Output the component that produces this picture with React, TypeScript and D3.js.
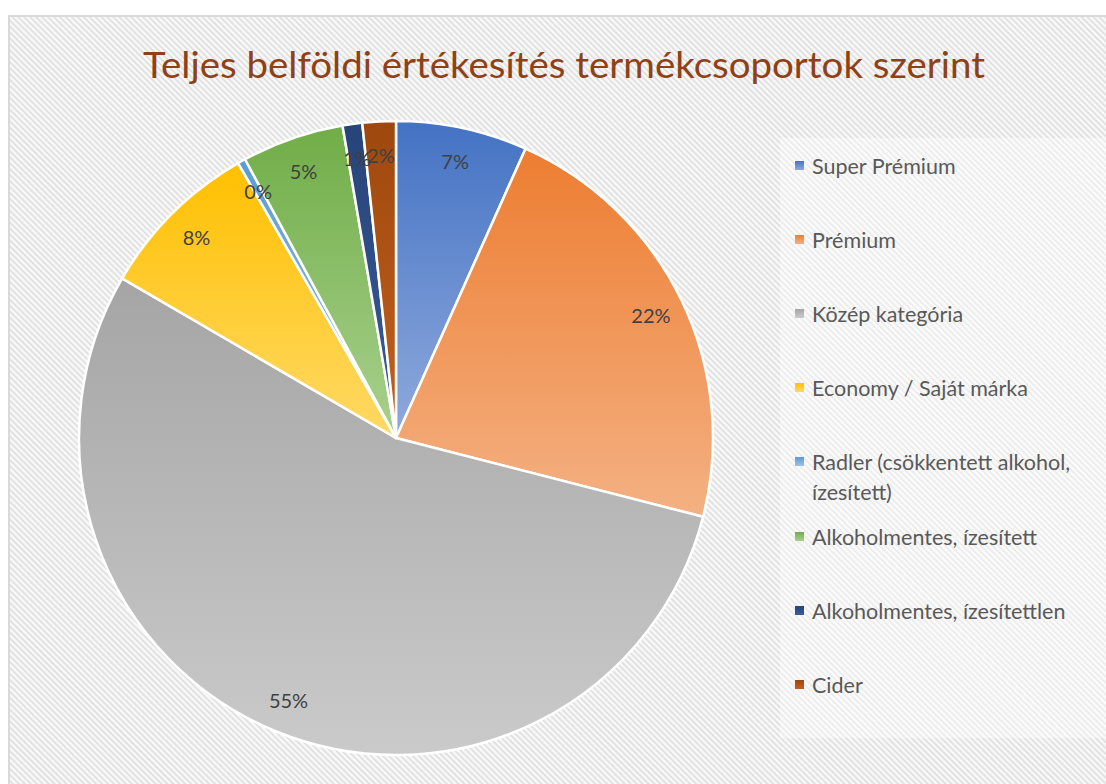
import React from 'react';
import * as d3 from 'd3';

const categories = [
  'Super Prémium',
  'Prémium',
  'Közép kategória',
  'Economy / Saját márka',
  'Radler (csökkentett alkohol, ízesített)',
  'Alkoholmentes, ízesített',
  'Alkoholmentes, ízesítettlen',
  'Cider',
];
const shares = [6.7, 22.3, 54.4, 8.3, 0.4, 5.2, 1.0, 1.7];
const pctLabels = ['7%', '22%', '55%', '8%', '0%', '5%', '1%', '2%'];
const legendLines = [
  ['Super Prémium'],
  ['Prémium'],
  ['Közép kategória'],
  ['Economy / Saját márka'],
  ['Radler (csökkentett alkohol,', 'ízesített)'],
  ['Alkoholmentes, ízesített'],
  ['Alkoholmentes, ízesítettlen'],
  ['Cider'],
];
const topColors = ['#4472C4', '#ED7D31', '#A5A5A5', '#FFC000', '#5B9BD5', '#70AD47', '#264478', '#9E480E'];
const bottomColors = ['#8FAADC', '#F4B183', '#CACACA', '#FFD966', '#9DC3E6', '#A9D18E', '#3B5C9C', '#C2611E'];
const title = 'Teljes belföldi értékesítés termékcsoportok szerint';

const W = 1106;
const H = 784;
const cx = 396;
const cy = 438;
const R = 317;
const labelR = 283;
const legendX = 795;
const legendRowY = [166, 240, 314, 388, 462, 537, 611, 685];
const font = 'Lato, "Open Sans", sans-serif';

export default function App() {
  const pie = d3.pie<number>().sort(null).value((d) => d).startAngle(0).endAngle(2 * Math.PI);
  const arcs = pie(shares);
  const arcGen = d3.arc<d3.PieArcDatum<number>>().innerRadius(0).outerRadius(R);
  const labelArc = d3.arc<d3.PieArcDatum<number>>().innerRadius(labelR).outerRadius(labelR);

  return (
    <svg
      width={W}
      height={H}
      style={{ position: 'absolute', left: 0, top: 0, display: 'block' }}
      xmlns="http://www.w3.org/2000/svg"
    >
      <defs>
        <pattern id="hatch" patternUnits="userSpaceOnUse" width={4.2} height={4.2} patternTransform="rotate(-45)">
          <rect x={0} y={0} width={4.2} height={4.2} fill="#f8f8f8" />
          <rect x={0} y={0} width={1.8} height={4.2} fill="#e0e0e0" />
        </pattern>
        {categories.map((c, i) => (
          <linearGradient key={c} id={`g${i}`} x1="0" y1="0" x2="0" y2="1">
            <stop offset="0" stopColor={topColors[i]} />
            <stop offset="1" stopColor={bottomColors[i]} />
          </linearGradient>
        ))}
      </defs>
      <rect x={0} y={0} width={W} height={H} fill="#ffffff" />
      <rect x={9} y={16} width={W + 20} height={H + 20} fill="url(#hatch)" stroke="#d9d9d9" strokeWidth={2} />
      <text
        x={564}
        y={78}
        textAnchor="middle"
        fontFamily={font}
        fontSize={36}
        fill="#8E4116"
        textLength={842}
        lengthAdjust="spacingAndGlyphs"
      >
        {title}
      </text>

      <rect x={780} y={138} width={326} height={600} fill="#ffffff" opacity={0.4} />

      <g transform={`translate(${cx},${cy})`}>
        {arcs.map((a, i) => (
          <path key={categories[i]} d={arcGen(a) || ''} fill={`url(#g${i})`} stroke="#ffffff" strokeWidth={2.5} strokeLinejoin="round" />
        ))}
        {arcs.map((a, i) => {
          const [lx, ly] = labelArc.centroid(a);
          return (
            <text
              key={`l${i}`}
              x={lx}
              y={ly}
              textAnchor="middle"
              dominantBaseline="central"
              fontFamily={font}
              fontSize={20}
              fill="#404040"
            >
              {pctLabels[i]}
            </text>
          );
        })}
      </g>

      <g>
        {categories.map((c, i) => (
          <g key={`lg${i}`}>
            <rect x={legendX} y={legendRowY[i] - 5} width={9} height={9} fill={`url(#g${i})`} />
            {legendLines[i].map((line, j) => (
              <text
                key={j}
                x={legendX + 17}
                y={legendRowY[i] + j * 30}
                dominantBaseline="central"
                fontFamily={font}
                fontSize={21.5}
                fill="#595959"
              >
                {line}
              </text>
            ))}
          </g>
        ))}
      </g>
    </svg>
  );
}
